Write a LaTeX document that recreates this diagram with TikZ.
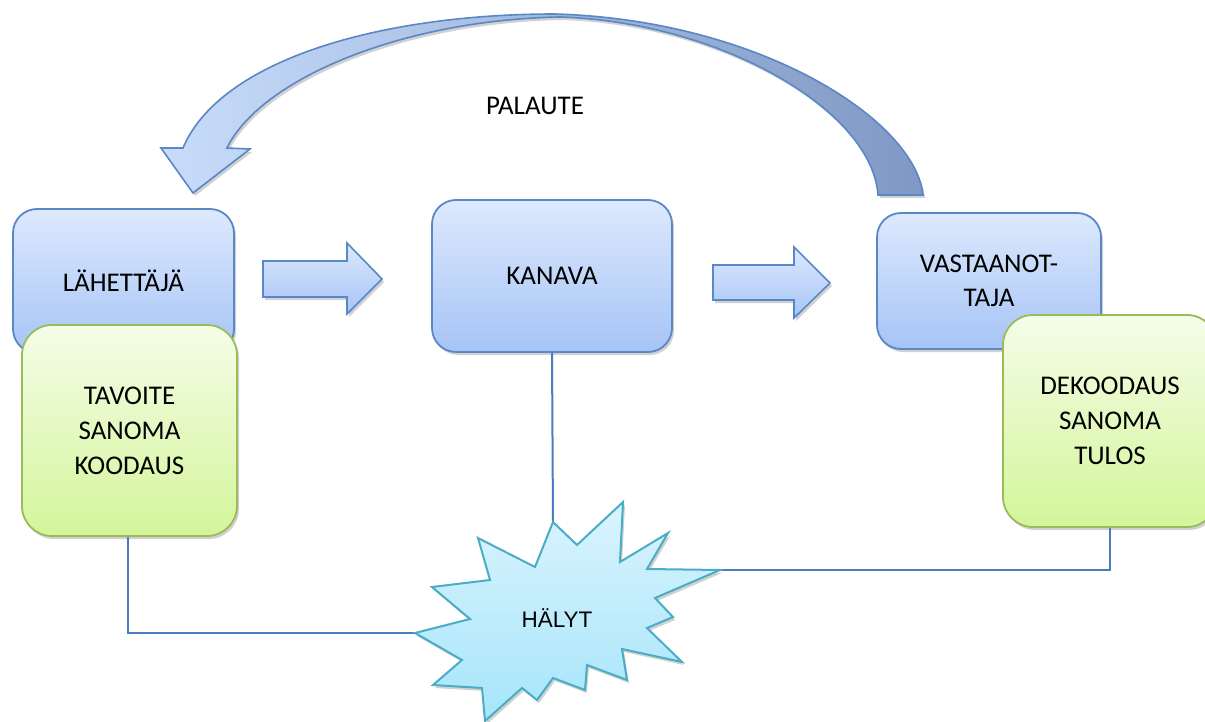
\documentclass[tikz,border=0pt]{standalone}
\usepackage{fontspec}
\setmainfont{Carlito}
\newfontfamily\arialf{Liberation Sans}
\usetikzlibrary{shadings,shadows}
\definecolor{boxblue}{HTML}{5A87C5}
\definecolor{bluetop}{HTML}{DDE9FD}
\definecolor{bluebot}{HTML}{A6C4F6}
\definecolor{greenline}{HTML}{9BBB59}
\definecolor{greentop}{HTML}{F4FDE8}
\definecolor{greenbot}{HTML}{D4F59A}
\definecolor{starline}{HTML}{4BACC6}
\definecolor{startop}{HTML}{DAF4FD}
\definecolor{starbot}{HTML}{A6E5FB}
\definecolor{connblue}{HTML}{4A7EBB}
\definecolor{fbleft}{HTML}{C8DCFA}
\definecolor{fbmid}{HTML}{B6C4DE}
\definecolor{fbright}{HTML}{8098C4}
\begin{document}
\begin{tikzpicture}[x=1pt,y=-1pt,
  softshadow/.style={drop shadow={shadow xshift=2pt,shadow yshift=-3pt,opacity=0.18,fill=black}},
  bluebox/.style={draw=boxblue,line width=1.8pt,rounded corners=24pt,top color=bluetop,bottom color=bluebot,
    inner sep=0pt,align=center,font=\fontsize{27}{34}\selectfont,softshadow},
  greenbox/.style={draw=greenline,line width=1.8pt,rounded corners=30pt,top color=greentop,bottom color=greenbot,
    inner sep=0pt,align=center,font=\fontsize{27}{35}\selectfont,softshadow},
  blockarrow/.style={draw=boxblue,line width=1.6pt,top color=bluetop,bottom color=bluebot,softshadow},
  fbarrow/.style={draw=boxblue,line width=1.6pt,left color=fbleft,middle color=fbmid,right color=fbright,softshadow},
  starshape/.style={draw=starline,line width=2pt,top color=startop,bottom color=starbot,line join=miter,softshadow},
  conn/.style={draw=connblue,line width=2pt},
  label/.style={font=\fontsize{27}{34}\selectfont,inner sep=0pt}
]
\useasboundingbox (0,0) rectangle (1205,722);

% feedback curved arrow
\path[fbarrow] (923,195) .. controls (915,120) and (760,20) .. (555,14)
  .. controls (380,14) and (220,60) .. (183,148) -- (161,148) -- (193,193) -- (250,149) -- (227,148)
  .. controls (260,80) and (400,20) .. (560,17)
  .. controls (720,22) and (872,110) .. (878,195) -- cycle;
\node[label] (palaute) at (535,106) {PALAUTE};

% blue boxes
\node[bluebox,minimum width=221pt,minimum height=144pt] (send) at (123.5,281) {LÄHETTÄJÄ};
\node[bluebox,minimum width=240pt,minimum height=152pt] (kanava) at (552,276) {KANAVA};
\node[bluebox,minimum width=224pt,minimum height=136pt] (recv) at (989,281) {VASTAANOT-\\TAJA};

% block arrows
\path[blockarrow] (263,261) -- (347,261) -- (347,243) -- (382,279) -- (347,314) -- (347,297) -- (263,297) -- cycle;
\path[blockarrow] (713,265) -- (794,265) -- (794,247) -- (830,283) -- (794,318) -- (794,300) -- (713,300) -- cycle;

% green boxes
\node[greenbox,minimum width=215pt,minimum height=211pt] (goal) at (129.5,430.5) {TAVOITE\\SANOMA\\KOODAUS};
\node[greenbox,minimum width=214pt,minimum height=212pt] (decode) at (1110,421) {DEKOODAUS\\SANOMA\\TULOS};

% star anchor points
\coordinate (sT) at (553,522);
\coordinate (sL) at (415,633);
\coordinate (sR) at (720,570);

% connectors
\draw[conn] (kanava.south) -- (sT);
\draw[conn] (goal.south -| 128,0) |- (sL);
\draw[conn] (decode.south -| 1109.5,0) |- (sR);

% star
\path[starshape] (sT) -- (577,545) -- (623,502) -- (620,562) -- (668,533) -- (647,569) -- (sR)
  -- (655,598) -- (673,617) -- (647,628) -- (682,662) -- (622,649) -- (627,680) -- (587,665)
  -- (585,690) -- (553,678) -- (537,700) -- (522,688) -- (485,721) -- (482,688) -- (433,685)
  -- (462,660) -- (sL) -- (470,619) -- (432,587) -- (490,580) -- (478,538) -- (535,567) -- cycle;
\node[font=\arialf\fontsize{22.5}{26}\selectfont,inner sep=0pt] (halyt) at (557,618) {HÄLYT};
\end{tikzpicture}
\end{document}
